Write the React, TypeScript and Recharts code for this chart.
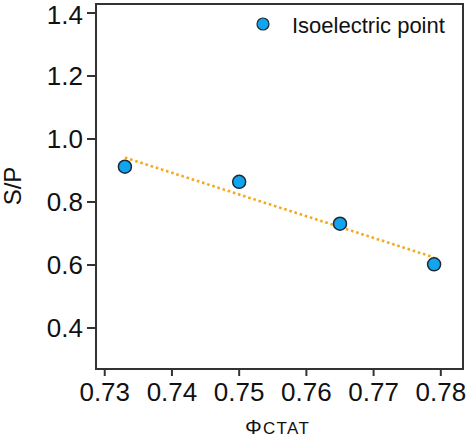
import React from "react";
import {
  ComposedChart,
  Scatter,
  XAxis,
  YAxis,
  ReferenceLine,
  ReferenceArea,
  Legend,
} from "recharts";

// Surfactant fraction vs. S/P ratio at the isoelectric point
const phiCtat = [0.733, 0.75, 0.765, 0.779];
const spRatio = [0.912, 0.864, 0.731, 0.602];

// Endpoints of the linear fit drawn through the points
const fitX = [0.733, 0.779];
const fitY = [0.941, 0.624];

const xTicks = [0.73, 0.74, 0.75, 0.76, 0.77, 0.78];
const yTicks = [0.4, 0.6, 0.8, 1.0, 1.2, 1.4];
const xDomain = [0.7287, 0.7833];
const yDomain = [0.2698, 1.4286];

const seriesName = "Isoelectric point";

const points = phiCtat.map((x, i) => ({ x, y: spRatio[i] }));

const FONT = "'Liberation Sans', Arial, Helvetica, sans-serif";
const BLUE = "#12a5ef";
const EDGE = "#1c2a36";
const AXIS = "#333333";

const Dot = (p: any) => (
  <circle cx={p.cx} cy={p.cy} r={6.5} fill={BLUE} stroke={EDGE} strokeWidth={1.5} />
);

const LegendBox = () => (
  <svg width={200} height={30} style={{ display: "block" }}>
    <circle cx={9} cy={14} r={6} fill={BLUE} stroke={EDGE} strokeWidth={1.2} />
    <text x={38} y={23.3} fontFamily={FONT} fontSize={22} fill="#111">
      {seriesName}
    </text>
  </svg>
);

const XLabel = () => (
  <g>
    <text x={245} y={434.3} fontFamily={FONT} fontSize={21} fill="#111">
      Φ
    </text>
    <text x={263} y={434.3} fontFamily={FONT} fontSize={17} letterSpacing={1.3} fill="#111">
      CTAT
    </text>
  </g>
);

const YLabel = () => (
  <text
    x={20.7}
    y={186}
    transform="rotate(-90 20.7 186)"
    textAnchor="middle"
    fontFamily={FONT}
    fontSize={24}
    fill="#111"
  >
    S/P
  </text>
);

export default function App() {
  return (
    <div style={{ position: "absolute", left: 0, top: 0, width: 468, height: 439, background: "#fff" }}>
      <ComposedChart
        width={468}
        height={439}
        margin={{ top: 4, right: 5, left: 0, bottom: 0 }}
      >
        <XAxis
          dataKey="x"
          type="number"
          domain={xDomain}
          ticks={xTicks}
          allowDataOverflow
          tickFormatter={(v: number) => v.toFixed(2)}
          height={70}
          tickSize={7}
          tickMargin={7}
          stroke={AXIS}
          strokeWidth={2}
          tick={{ fontFamily: FONT, fontSize: 26, fill: "#111" }}
          label={<XLabel />}
        />
        <YAxis
          dataKey="y"
          type="number"
          domain={yDomain}
          ticks={yTicks}
          allowDataOverflow
          tickFormatter={(v: number) => v.toFixed(1)}
          width={96}
          tickSize={9}
          tickMargin={4}
          stroke={AXIS}
          strokeWidth={2}
          tick={{ fontFamily: FONT, fontSize: 26, fill: "#111" }}
          label={<YLabel />}
        />
        <ReferenceArea
          x1={xDomain[0]}
          x2={xDomain[1]}
          y1={yDomain[0]}
          y2={yDomain[1]}
          fill="none"
          stroke={AXIS}
          strokeWidth={2}
          ifOverflow="visible"
        />
        <ReferenceLine
          segment={[
            { x: fitX[0], y: fitY[0] },
            { x: fitX[1], y: fitY[1] },
          ]}
          stroke="#f6a821"
          strokeWidth={2.6}
          strokeDasharray="2.6 2.8"
          ifOverflow="visible"
        />
        <Scatter
          name={seriesName}
          data={points}
          shape={Dot}
          legendType="circle"
          isAnimationActive={false}
        />
        <Legend
          layout="vertical"
          align="center"
          verticalAlign="middle"
          content={() => <LegendBox />}
          wrapperStyle={{ position: "absolute", left: 254, top: 10, width: 200, height: 30 }}
        />
      </ComposedChart>
    </div>
  );
}
